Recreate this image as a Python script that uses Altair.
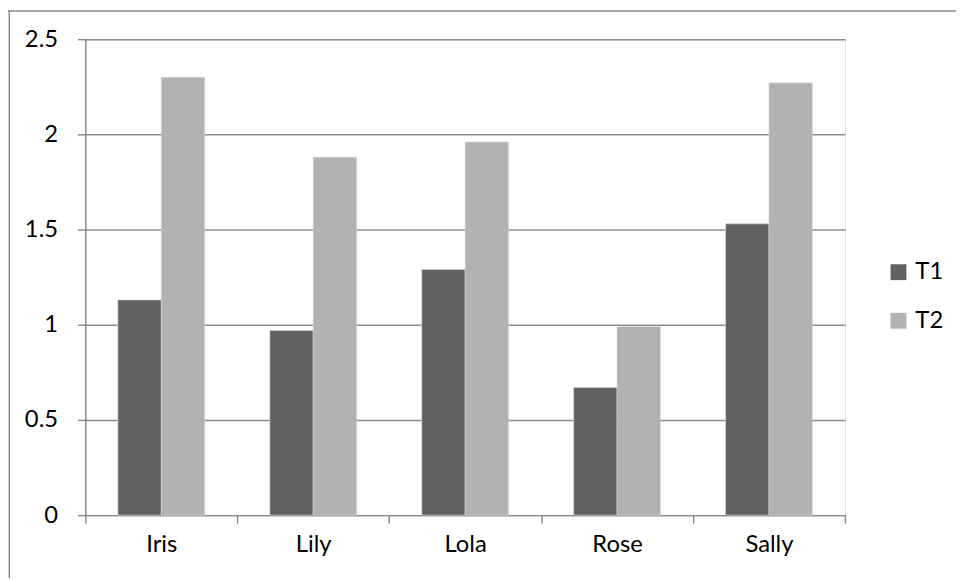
import altair as alt
import pandas as pd

names = ["Iris", "Lily", "Lola", "Rose", "Sally"]
t1 = [1.13, 0.97, 1.29, 0.67, 1.53]
t2 = [2.30, 1.88, 1.96, 0.99, 2.27]
series = ["T1", "T2"]
colors = ["#616161", "#b2b2b2"]
y_ticks = [0, 0.5, 1, 1.5, 2, 2.5]

rows = []
for i, n in enumerate(names):
    rows.append({"name": n, "series": "T1", "value": t1[i]})
    rows.append({"name": n, "series": "T2", "value": t2[i]})
df = pd.DataFrame(rows)

FONT = "Lato"
GRAY = "#8c8c8c"

bars = alt.Chart(df).mark_bar(stroke="#d6d6d6", strokeWidth=0.6).encode(
    x=alt.X("name:N", sort=names,
            scale=alt.Scale(paddingInner=0, paddingOuter=0),
            axis=alt.Axis(title=None, labelAngle=0, tickBand="extent",
                          labelFont=FONT, labelFontSize=24, labelColor="#000",
                          labelPadding=10, tickSize=8, tickColor=GRAY,
                          domainColor=GRAY, domainWidth=1.5, tickWidth=1.5,
                          grid=False)),
    xOffset=alt.XOffset("series:N", sort=series,
                        scale=alt.Scale(paddingInner=0, paddingOuter=0.75)),
    y=alt.Y("value:Q",
            scale=alt.Scale(domain=[0, 2.5], nice=False),
            axis=alt.Axis(title=None, values=y_ticks, format="~g",
                          labelFont=FONT, labelFontSize=24, labelColor="#000",
                          labelPadding=20, tickSize=8, tickColor=GRAY,
                          tickWidth=1.5, domainColor=GRAY, domainWidth=1.5,
                          grid=True, gridColor=GRAY, gridWidth=1.5)),
    color=alt.Color("series:N", sort=series,
                    scale=alt.Scale(domain=series, range=colors),
                    legend=alt.Legend(title=None, orient="none",
                                      legendX=808, legendY=223,
                                      symbolType="square", symbolSize=256,
                                      symbolStrokeWidth=0,
                                      labelFont=FONT, labelFontSize=24,
                                      labelColor="#000", labelOffset=5,
                                      rowPadding=25, padding=0)),
)

border_df = pd.DataFrame({"k": [0]})
top_border = alt.Chart(border_df).mark_rule(color="#888888", strokeWidth=1.5).encode(
    x=alt.value(-78), x2=alt.value(1000), y=alt.value(-28.3))
left_border = alt.Chart(border_df).mark_rule(color="#888888", strokeWidth=1.5).encode(
    x=alt.value(-76.7), y=alt.value(-29), y2=alt.value(700))

chart = alt.layer(bars, top_border, left_border).properties(
    width=766, height=480,
    autosize=alt.AutoSizeParams(type="none"),
    padding={"left": 78, "top": 29, "right": 112, "bottom": 61},
).configure_view(strokeWidth=0, strokeOpacity=0).configure(background="white")

chart.save("out.html", embed_options={"renderer": "svg", "actions": False})
